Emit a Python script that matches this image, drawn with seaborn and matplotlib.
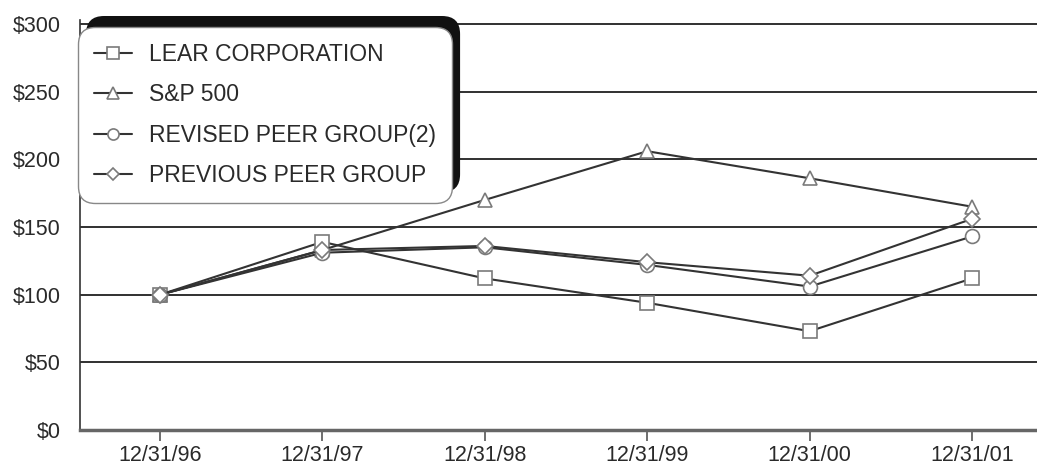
import pandas as pd
import matplotlib.pyplot as plt
import seaborn as sns
from matplotlib.patches import FancyBboxPatch
from matplotlib.transforms import IdentityTransform

# ===================================
# Data
# ===================================

dates = ["12/31/96", "12/31/97", "12/31/98", "12/31/99", "12/31/00", "12/31/01"]

lear = [100, 139, 112, 94, 73, 112]
sp500 = [100, 133, 170, 206, 186, 165]
revised_peer = [100, 131, 135, 122, 106, 143]
previous_peer = [100, 133, 136, 124, 114, 156]

series_names = [
    "LEAR CORPORATION",
    "S&P 500",
    "REVISED PEER GROUP(2)",
    "PREVIOUS PEER GROUP",
]
series_values = [lear, sp500, revised_peer, previous_peer]
series_markers = ["s", "^", "o", "D"]
marker_sizes = [10, 10, 10, 8]

y_ticks = [0, 50, 100, 150, 200, 250, 300]
y_labels = ["$0", "$50", "$100", "$150", "$200", "$250", "$300"]

# ===================================
# Layout
# ===================================

sns.set_style("white")
plt.rcParams["font.family"] = ["Liberation Sans", "DejaVu Sans"]

W, H = 1037, 468
fig = plt.figure(figsize=(W / 100, H / 100), dpi=100)
ax = fig.add_axes([80 / W, 1 - 430 / H, 1 - 80 / W, (430 - 20) / H])
ax.set_facecolor("white")

text_color = "#2a2a2a"
line_color = "#333333"

# ===================================
# Lines
# ===================================

for name, vals, mk, ms in zip(series_names, series_values, series_markers, marker_sizes):
    df = pd.DataFrame({"x": range(len(dates)), "y": vals})
    sns.lineplot(
        data=df,
        x="x",
        y="y",
        ax=ax,
        color=line_color,
        linewidth=1.5,
        marker=mk,
        markersize=ms,
        markerfacecolor="white",
        markeredgecolor="#7a7a7a",
        markeredgewidth=1.2,
        label=name,
        zorder=3,
    )

# ===================================
# Axes styling
# ===================================

ax.set_xlim(-0.4926, 5.40)
ax.set_ylim(0, 300 + 4 / 1.3533)

ax.set_yticks(y_ticks)
ax.set_yticklabels(y_labels)
ax.set_xticks(range(len(dates)))
ax.set_xticklabels(dates)

for y in y_ticks[1:]:
    ax.axhline(y, color="#303030", linewidth=1.4, zorder=1)

ax.tick_params(axis="y", length=0, pad=14, labelsize=15.5, labelcolor=text_color)
ax.tick_params(axis="x", length=8, width=1.2, color="#555555", direction="out",
               pad=3, labelsize=15.5, labelcolor=text_color, bottom=True)

ax.set_xlabel("")
ax.set_ylabel("")

for side in ["top", "right"]:
    ax.spines[side].set_visible(False)
ax.spines["left"].set_color("#333333")
ax.spines["left"].set_linewidth(1.2)
ax.spines["bottom"].set_color("#666666")
ax.spines["bottom"].set_linewidth(2.5)

# ===================================
# Legend with offset shadow
# ===================================

leg = ax.legend(
    loc="upper left",
    bbox_to_anchor=(78 / W, 1 - 27 / H),
    bbox_transform=fig.transFigure,
    borderaxespad=0,
    frameon=True,
    fancybox=True,
    fontsize=16.5,
    handlelength=1.65,
    handletextpad=0.75,
    labelspacing=0.76,
    borderpad=0.7,
    markerscale=0.8,
    labelcolor=text_color,
)
frame = leg.get_frame()
frame.set_boxstyle("round,pad=0,rounding_size=0.75")
frame.set_edgecolor("#888888")
frame.set_linewidth(1.0)
frame.set_facecolor("white")
frame.set_alpha(1)
leg.set_zorder(6)

fig.canvas.draw()
bb = leg.get_window_extent()
shadow = FancyBboxPatch(
    (bb.x0 + 8, bb.y0 + 11),
    bb.width,
    bb.height,
    boxstyle="round,pad=0,rounding_size=18",
    facecolor="#111111",
    edgecolor="none",
    transform=IdentityTransform(),
    clip_on=False,
    zorder=5.5,
)
ax.add_artist(shadow)

fig.savefig("out.png", dpi=100)
